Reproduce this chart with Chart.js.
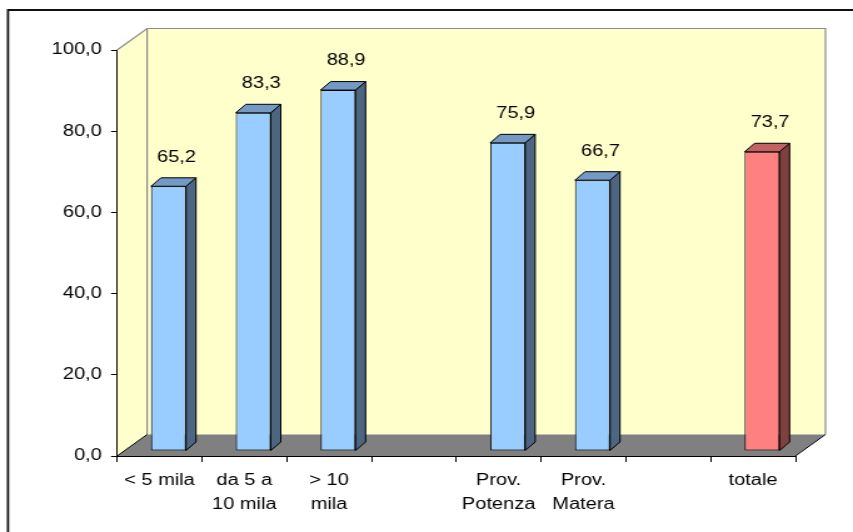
<!DOCTYPE html>
<html>
<head>
<meta charset="utf-8">
<script src="https://cdn.jsdelivr.net/npm/chart.js@4/dist/chart.umd.min.js"></script>
<style>
  html, body { margin: 0; padding: 0; background: #fff; }
  canvas { display: block; }
</style>
</head>
<body>
<!-- drawn at 682 wide and stretched to 853 so the lettering stays wide -->
<canvas id="c" width="682" height="532" style="width:853px;height:532px"></canvas>
<script>
// categories (multi-line labels), values and axis ticks
const categories = [["< 5 mila"], ["da 5 a", "10 mila"], ["> 10", "mila"], "", ["Prov.", "Potenza"], ["Prov.", "Matera"], "", ["totale"]];
const percentages = [65.2, 83.3, 88.9, null, 75.9, 66.7, null, 73.7];
const isTotal = [false, false, false, false, false, false, false, true];
const yMin = 0;
const yMax = 100;
const yStep = 20;

const FONT = { family: '"Liberation Sans", Arial, sans-serif', size: 16 };
const fmt = v => v.toFixed(1).replace('.', ',');

// 3D look: wall depth, bar depth and where the bar sits inside the floor
const WALL_DX = 24, WALL_DY = -21.5;
const BAR_DX = 8, BAR_DY = -8.5;
const BAR_SHIFT_X = 7.2, BAR_SHIFT_Y = -5;

const palette = {
  blue: { front: '#99CCFF', top: '#7399C4', side: '#4C6682' },
  red:  { front: '#FF8080', top: '#C26262', side: '#804040' }
};
const colourOf = i => isTotal[i] ? palette.red : palette.blue;

function poly(ctx, pts, fill, stroke, lw) {
  ctx.beginPath();
  ctx.moveTo(pts[0][0], pts[0][1]);
  for (let k = 1; k < pts.length; k++) ctx.lineTo(pts[k][0], pts[k][1]);
  ctx.closePath();
  if (fill) { ctx.fillStyle = fill; ctx.fill(); }
  if (stroke) { ctx.strokeStyle = stroke; ctx.lineWidth = lw || 1; ctx.stroke(); }
}

const walls = {
  id: 'walls',
  beforeDraw(chart) {
    const { ctx, chartArea: a, width, height } = chart;
    ctx.save();
    // frame around the whole chart
    ctx.strokeStyle = '#111';
    ctx.lineWidth = 1.8;
    ctx.beginPath();
    ctx.moveTo(6.4, height + 5);
    ctx.lineTo(6.4, 10);
    ctx.lineTo(width + 5, 10);
    ctx.stroke();

    const L = a.left, R = a.right, T = a.top, B = a.bottom;
    // side wall
    poly(ctx, [[L, T], [L + WALL_DX, T + WALL_DY], [L + WALL_DX, B + WALL_DY], [L, B]], '#FFFFCC', null);
    // back wall
    poly(ctx, [[L + WALL_DX, T + WALL_DY], [R + WALL_DX, T + WALL_DY], [R + WALL_DX, B + WALL_DY], [L + WALL_DX, B + WALL_DY]], '#FFFFCC', null);
    ctx.strokeStyle = '#8c8c8c';
    ctx.lineWidth = 1.2;
    ctx.beginPath();
    ctx.moveTo(L, T);
    ctx.lineTo(L + WALL_DX, T + WALL_DY);
    ctx.lineTo(R + WALL_DX, T + WALL_DY);
    ctx.lineTo(R + WALL_DX, B + WALL_DY);
    ctx.moveTo(L + WALL_DX, T + WALL_DY);
    ctx.lineTo(L + WALL_DX, B + WALL_DY);
    ctx.stroke();
    // floor
    poly(ctx, [[L, B], [L + WALL_DX, B + WALL_DY], [R + WALL_DX, B + WALL_DY], [R, B]], '#808080', null);
    ctx.strokeStyle = '#000';
    ctx.lineWidth = 1;
    ctx.beginPath();
    ctx.moveTo(L, B); ctx.lineTo(L + WALL_DX, B + WALL_DY);
    ctx.moveTo(R, B); ctx.lineTo(R + WALL_DX, B + WALL_DY);
    ctx.stroke();
    ctx.restore();
  },
  beforeDatasetsDraw(chart) {
    chart.ctx.save();
    chart.ctx.translate(BAR_SHIFT_X, BAR_SHIFT_Y);
  },
  afterDatasetsDraw(chart) {
    const ctx = chart.ctx;
    ctx.restore();
    const meta = chart.getDatasetMeta(0);
    ctx.save();
    meta.data.forEach((el, i) => {
      const v = percentages[i];
      if (v === null || v === undefined) return;
      const c = colourOf(i);
      const x0 = el.x - el.width / 2 + BAR_SHIFT_X;
      const x1 = el.x + el.width / 2 + BAR_SHIFT_X;
      const yt = el.y + BAR_SHIFT_Y;
      const yb = el.base + BAR_SHIFT_Y;
      ctx.lineJoin = 'round';
      poly(ctx, [[x1, yt], [x1 + BAR_DX, yt + BAR_DY], [x1 + BAR_DX, yb + BAR_DY], [x1, yb]], c.side, '#000', 1);
      poly(ctx, [[x0, yt], [x1, yt], [x1 + BAR_DX, yt + BAR_DY], [x0 + BAR_DX, yt + BAR_DY]], c.top, '#000', 1);
      // value label
      ctx.fillStyle = '#000';
      ctx.font = FONT.size + 'px ' + FONT.family;
      ctx.textAlign = 'center';
      ctx.textBaseline = 'middle';
      ctx.fillText(fmt(v), el.x + 13.6, yt - 29);
    });
    ctx.restore();
  }
};

new Chart(document.getElementById('c'), {
  type: 'bar',
  data: {
    labels: categories,
    datasets: [{
      data: percentages,
      backgroundColor: percentages.map((_, i) => colourOf(i).front),
      borderColor: '#000',
      borderWidth: 1,
      borderSkipped: false,
      categoryPercentage: 1,
      barPercentage: 0.413
    }]
  },
  options: {
    responsive: false,
    animation: false,
    devicePixelRatio: 1,
    layout: { padding: { top: 50, right: 46, bottom: 0, left: 0 } },
    plugins: { legend: { display: false }, tooltip: { enabled: false } },
    scales: {
      x: {
        type: 'category',
        offset: true,
        grid: { offset: true, drawOnChartArea: false, tickLength: 6, color: '#000', lineWidth: 1 },
        border: { display: true, color: '#000', width: 1 },
        ticks: { color: '#000', font: { ...FONT, lineHeight: 1.47 }, padding: 7, autoSkip: false, maxRotation: 0, minRotation: 0 },
        afterFit(scale) { scale.height = 76; }
      },
      y: {
        min: yMin,
        max: yMax,
        grid: { drawOnChartArea: false, tickLength: 4.8, color: '#000', lineWidth: 1 },
        border: { display: true, color: '#000', width: 1 },
        ticks: { stepSize: yStep, color: '#000', font: FONT, padding: 7.4, callback: v => fmt(v) },
        afterFit(scale) { scale.width = 93.6; }
      }
    }
  },
  plugins: [walls]
});
</script>
</body>
</html>
